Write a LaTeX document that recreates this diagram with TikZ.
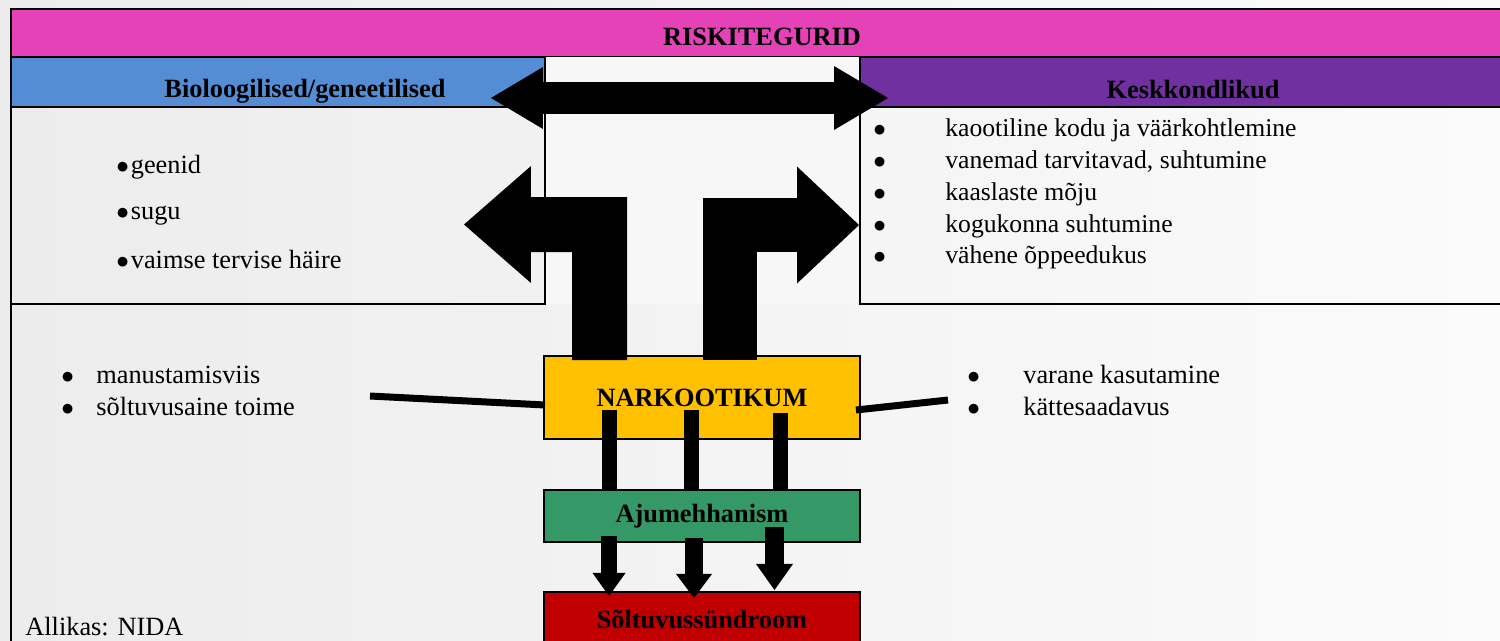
\documentclass[tikz,border=0pt]{standalone}
\usepackage{fontspec}
\setmainfont{Liberation Serif}
\usetikzlibrary{positioning, calc, arrows.meta}

\definecolor{riskpink}{RGB}{230,66,184}
\definecolor{bioblue}{RGB}{84,141,212}
\definecolor{envpurple}{RGB}{112,48,160}
\definecolor{narkoyellow}{RGB}{255,192,0}
\definecolor{ajugreen}{RGB}{52,153,102}
\definecolor{solred}{RGB}{192,0,0}
\definecolor{bgleft}{RGB}{236,236,236}
\definecolor{bgright}{RGB}{251,251,251}

\tikzset{
  hbox/.style={draw=black, line width=0.04cm, inner sep=0pt, outer sep=0pt, anchor=north west},
  midbox/.style={draw=black, line width=0.04cm, minimum width=6.32cm, inner sep=0pt, outer sep=0pt,
    font=\fontsize{15}{18}\selectfont\bfseries},
  headtxt/.style={font=\fontsize{15}{18}\selectfont\bfseries, anchor=base, inner sep=0pt},
  item/.style={font=\fontsize{15}{18}\selectfont, anchor=base west, inner sep=0pt},
  block/.style={draw=black, line join=miter},
  bar/.style={draw=black, line width=0.3cm},
  sideline/.style={draw=black, line width=0.14cm},
}
\newcommand{\bul}[1]{\makebox[#1][l]{$\bullet$}}

\begin{document}
\begin{tikzpicture}[x=0.02cm, y=-0.02cm]
  \useasboundingbox (0,0) rectangle (1500,640);
  \clip (0,0) rectangle (1500,640);
  \shade[left color=bgleft, right color=bgright] (0,0) rectangle (1500,640);

  % header row and the two factor boxes
  \node[hbox, fill=riskpink, minimum width=30.02cm, minimum height=0.96cm] (risk) at (11,9) {};
  \node[hbox, fill=bioblue, minimum width=10.68cm, minimum height=1cm] (bio) at (risk.south west) {};
  \node[hbox, fill=envpurple, minimum width=13.04cm, minimum height=1cm] (env) at (860,57) {};
  \node[hbox, minimum width=10.68cm, minimum height=3.94cm] (biobox) at (bio.south west) {};
  \node[hbox, minimum width=13.04cm, minimum height=3.94cm] (envbox) at (env.south west) {};
  \fill[white!97!black] (bio.north east) rectangle (envbox.south west);
  \draw[line width=0.04cm] (bio.north east) -- (biobox.south east);
  \draw[line width=0.04cm] (env.north west) -- (envbox.south west);
  \draw[line width=0.04cm] (11,660) |- (1520,9);

  \node[headtxt] (risktxt) at (762,45) {RISKITEGURID};
  \node[headtxt] (biotxt) at (305,97) {Bioloogilised/geneetilised};
  \node[headtxt] (envtxt) at (1193,98) {Keskkondlikud};

  \node[item] (bio1) at (116,173) {\bul{0.29cm}geenid};
  \node[item] (bio2) at (116,219) {\bul{0.29cm}sugu};
  \node[item] (bio3) at (116,268) {\bul{0.29cm}vaimse tervise häire};

  \node[item, font=\fontsize{14.6}{18}\selectfont] (env1) at (873,136) {\bul{1.44cm}kaootiline kodu ja väärkohtlemine};
  \node[item, font=\fontsize{14.6}{18}\selectfont] (env2) at (873,168) {\bul{1.44cm}vanemad tarvitavad, suhtumine};
  \node[item, font=\fontsize{14.6}{18}\selectfont] (env3) at (873,200) {\bul{1.44cm}kaaslaste mõju};
  \node[item, font=\fontsize{14.6}{18}\selectfont] (env4) at (873,232) {\bul{1.44cm}kogukonna suhtumine};
  \node[item, font=\fontsize{14.6}{18}\selectfont] (env5) at (873,263) {\bul{1.44cm}vähene õppeedukus};

  \node[item] (drug1) at (61,383) {\bul{0.7cm}manustamisviis};
  \node[item] (drug2) at (61,415) {\bul{0.7cm}sõltuvusaine toime};
  \node[item] (use1) at (967,383) {\bul{1.12cm}varane kasutamine};
  \node[item] (use2) at (967,415) {\bul{1.12cm}kättesaadavus};
  \node[item] (source) at (25,635) {Allikas: NIDA};

  % centre chain
  \node[midbox, fill=narkoyellow, minimum height=1.66cm, anchor=north west] (narko) at (544,356) {NARKOOTIKUM};
  \node[midbox, fill=ajugreen, minimum height=1.04cm, below=1.02cm of narko] (aju) {Ajumehhanism};
  \node[midbox, fill=solred, minimum height=1.12cm, below=1cm of aju] (sol) {Sõltuvussündroom};

  \coordinate (biotip) at (464,224.5);
  \coordinate (envtip) at (859,225);
  \coordinate (dleft) at (491,98);
  \coordinate (dright) at (888,98);
  \coordinate (drugend) at (370,396);
  \coordinate (useend) at (948,400);

  \draw[block, line width=0.64cm, {Triangle[length=1.04cm, width=1.24cm, line width=0pt]}-{Triangle[length=1.08cm, width=1.28cm, line width=0pt]}] (dleft) -- (dright);
  \draw[block, line width=1.1cm, -{Triangle[length=1.34cm, width=2.34cm, line width=0pt]}] ($(narko.north west)+(55.5,4)$) -- ($(narko.north west)+(55.5,-131.5)$) -- (biotip);
  \draw[block, line width=1.08cm, -{Triangle[length=1.24cm, width=2.34cm, line width=0pt]}] ($(narko.north west)+(186,4)$) -- ($(narko.north west)+(186,-131)$) -- (envtip);

  \draw[sideline] (drugend) -- ($(narko.west)+(1,7.5)$);
  \draw[sideline] ($(narko.east)+(-4,12.5)$) -- (useend);

  \draw[bar] ($(narko.south west)+(65.5,-29)$) -- ($(aju.north west)+(65.5,0)$);
  \draw[bar] ($(narko.south west)+(147.5,-29)$) -- ($(aju.north west)+(147.5,0)$);
  \draw[bar] ($(narko.south west)+(236.5,-26)$) -- ($(aju.north west)+(236.5,0)$);

  \draw[block, line width=0.32cm, -{Triangle[length=0.46cm, width=0.66cm, line width=0pt]}] ($(aju.south west)+(65,-6)$) -- ($(sol.north west)+(65,4)$);
  \draw[block, line width=0.36cm, -{Triangle[length=0.48cm, width=0.72cm, line width=0pt]}] ($(aju.south west)+(150,-4)$) -- ($(sol.north west)+(150,6)$);
  \draw[block, line width=0.38cm, -{Triangle[length=0.52cm, width=0.74cm, line width=0pt]}] ($(aju.south west)+(230.5,-15)$) -- ($(sol.north west)+(230.5,-2)$);
\end{tikzpicture}
\end{document}
